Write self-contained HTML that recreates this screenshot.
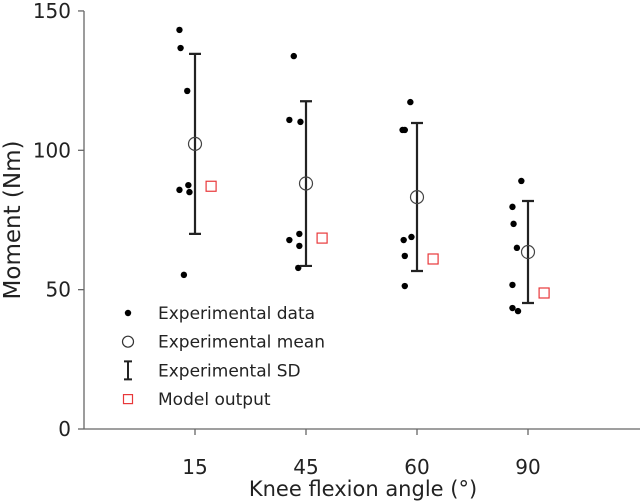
<!DOCTYPE html>
<html><head><meta charset="utf-8"><style>
body{margin:0;background:#fff}
svg{display:block;font-family:"DejaVu Sans","Liberation Sans",sans-serif}
</style></head><body>
<svg id="chart" width="644" height="503" viewBox="0 0 644 503" xmlns="http://www.w3.org/2000/svg"></svg>
<script>
const categories=["15","45","60","90"];
const dataValues=[
 [143.2,136.7,121.3,85.8,87.5,85.0,55.3],
 [133.8,110.9,110.2,67.8,70.0,65.7,57.8],
 [117.3,107.3,107.3,67.8,68.9,62.1,51.3],
 [89.0,79.7,73.6,65.0,51.7,43.4,42.3]];
const dataJitter=[
 [-0.14,-0.13,-0.07,-0.14,-0.06,-0.05,-0.1],
 [-0.11,-0.15,-0.05,-0.15,-0.06,-0.06,-0.07],
 [-0.06,-0.13,-0.11,-0.12,-0.05,-0.11,-0.11],
 [-0.06,-0.14,-0.13,-0.1,-0.14,-0.14,-0.09]];
const means=[102.3,88.1,83.2,63.5];
const sdUpper=[134.6,117.6,109.8,81.8];
const sdLower=[70.0,58.5,56.7,45.2];
const modelOutput=[87.1,68.5,61.0,48.8];
const yTicks=[0,50,100,150];
const svg=document.getElementById('chart');
const NS='http://www.w3.org/2000/svg';
const X=v=>84+111*v, Y=v=>429-2.787*v;
function mk(t,a,p){const e=document.createElementNS(NS,t);for(const k in a)e.setAttribute(k,a[k]);(p||svg).appendChild(e);return e;}
let g;
g=mk('line',{x1:84,y1:429,x2:640,y2:429,stroke:'#666','stroke-width':1.3});

g=mk('line',{x1:84,y1:11,x2:84,y2:429,stroke:'#666','stroke-width':1.3});

yTicks.forEach(t=>{
 g=mk('line',{x1:78,y1:Y(t),x2:84,y2:Y(t),stroke:'#666','stroke-width':1.3});
 
 g=mk('text',{x:71,y:Y(t)+7,'text-anchor':'end','font-size':20,fill:'#222'});g.textContent=t;
 
});
categories.forEach((c,i)=>{
 const x=X(i+1);
 g=mk('line',{x1:x,y1:429,x2:x,y2:435,stroke:'#666','stroke-width':1.3});
 
 g=mk('text',{x:x,y:474,'text-anchor':'middle','font-size':20,fill:'#222'});g.textContent=c;
 
 dataValues[i].forEach((v,j)=>{
  g=mk('circle',{cx:X(i+1+dataJitter[i][j]),cy:Y(v),r:3.2,fill:'#000'});
  
 });
 g=mk('path',{d:`M${x} ${Y(sdUpper[i])}V${Y(sdLower[i])}M${x-6} ${Y(sdUpper[i])}H${x+6}M${x-6} ${Y(sdLower[i])}H${x+6}`,stroke:'#222','stroke-width':2.2,fill:'none'});
 
 g=mk('circle',{cx:x,cy:Y(means[i]),r:6.5,fill:'none',stroke:'#444','stroke-width':1.2});
 
 g=mk('rect',{x:X(i+1.145)-5,y:Y(modelOutput[i])-5,width:10,height:10,fill:'none',stroke:'#e8383a','stroke-width':1.2});
 
});
g=mk('text',{x:363,y:496,'text-anchor':'middle','font-size':21,fill:'#222'});g.textContent='Knee flexion angle (°)';

g=mk('text',{x:0,y:0,'text-anchor':'middle','font-size':23,fill:'#222',transform:'translate(20,220) rotate(-90)'});g.textContent='Moment (Nm)';

const leg=mk('g',{});

const labels=['Experimental data','Experimental mean','Experimental SD','Model output'];
labels.forEach((l,i)=>{
 const y=313+i*28.7;
 if(i==0)mk('circle',{cx:128,cy:y,r:3.2,fill:'#000'},leg);
 if(i==1)mk('circle',{cx:128,cy:y,r:5.5,fill:'none',stroke:'#333','stroke-width':1.2},leg);
 if(i==2)mk('path',{d:`M128 ${y-9}V${y+9}M124 ${y-9}H132M124 ${y+9}H132`,stroke:'#222','stroke-width':2},leg);
 if(i==3)mk('rect',{x:123.5,y:y-4.5,width:9,height:9,fill:'none',stroke:'#e8383a','stroke-width':1.2},leg);
 g=mk('text',{x:158,y:y+6,'font-size':17,fill:'#222'},leg);g.textContent=l;
 
});
</script>
</body></html>
